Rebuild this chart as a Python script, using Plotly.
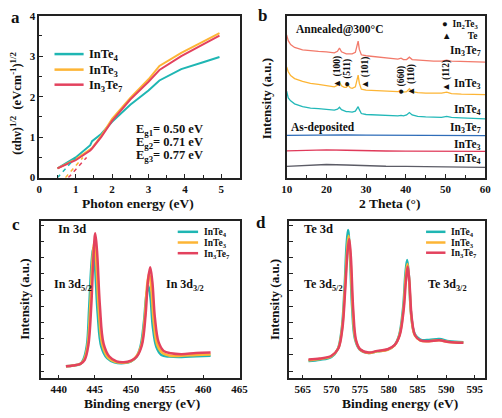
# -*- coding: utf-8 -*-
import plotly.graph_objs as go

# ---- panel a: Tauc plot ----
energy_a = [0.5, 1.0, 1.4, 1.45, 1.7, 2.0, 2.5, 3.0, 3.3, 3.9, 4.5, 4.95]
tauc_inte4 = [0.23, 0.5, 0.8, 0.9, 1.08, 1.38, 1.8, 2.15, 2.4, 2.68, 2.85, 2.98]
tauc_inte3 = [0.23, 0.45, 0.7, 0.73, 1.03, 1.45, 1.97, 2.43, 2.76, 3.08, 3.36, 3.57]
tauc_in3te7 = [0.23, 0.43, 0.67, 0.72, 1.0, 1.4, 1.93, 2.37, 2.66, 3.0, 3.29, 3.51]
fit_x_inte4 = [0.5, 1.0]
fit_x_inte3 = [0.72, 1.2]
fit_x_in3te7 = [0.8, 1.3]
fit_y = [0.0, 0.5]
eg_labels = ['E<sub>g1</sub>= 0.50 eV', 'E<sub>g2</sub>= 0.71 eV', 'E<sub>g3</sub>= 0.77 eV']

# ---- panel b: XRD ----
theta_annealed = [10, 10.4, 11, 12, 14, 16, 18, 20, 22, 22.8, 23.3, 23.8, 24.5, 25.0, 25.5, 26.0, 26.5,
                  27.3, 27.7, 28.0, 28.3, 28.8, 30, 32, 34, 36, 38, 38.8, 39.4, 40.2, 40.9, 41.6, 43,
                  45, 47, 49, 50.3, 51.5, 54, 57, 60]
xrd_ann_in3te7 = [147, 141, 137, 134, 131.5, 130.5, 130, 129.5, 128.5, 130, 133.5, 129.5, 128, 127.5, 127.5,
                  127.5, 127.5, 129, 135, 140.5, 132, 126.5, 125.5, 124.5, 123.5, 122.5, 122, 123, 121.5,
                  121.5, 124, 121.5, 121, 120.5, 120, 120, 121, 120, 119.5, 119, 119]
xrd_ann_inte3 = [114, 109, 105, 102, 99, 97, 96, 94.5, 93.5, 95, 98.5, 94.5, 93, 93, 95, 92.5, 92, 93.5, 100,
                 105.5, 97, 91, 90, 89.5, 89, 88.5, 88.5, 89.5, 88, 88.5, 91.5, 88.5, 87.5, 87, 87, 87, 88,
                 86.5, 86, 86, 85.5]
xrd_ann_inte4 = [89, 82, 79, 76, 73, 71.5, 71, 70.5, 69.5, 70.5, 72.5, 70, 68.5, 68, 68, 68, 67.5, 68.5, 71,
                 73, 70, 66, 65, 64.5, 64, 63.5, 63.5, 64, 63.5, 64.5, 67, 64.5, 63, 62.5, 62, 62, 63, 62,
                 61.5, 61, 60.5]
theta_dep = [10, 15, 20, 25, 30, 35, 40, 45, 50, 55, 60]
xrd_dep_in3te7 = [43.5, 43.8, 44, 44, 43.7, 43.6, 43.5, 43.4, 43.3, 43.2, 43.2]
xrd_dep_inte3 = [27.5, 28, 28.5, 28.2, 27.5, 27.4, 27.2, 27.2, 27.2, 27.1, 27]
xrd_dep_inte4 = [11.5, 12.5, 13.5, 13, 12, 11.7, 11.5, 11.2, 11, 10.8, 10.5]
peak_labels = ['▲ (100)', '● (511)', '▲ (101)', '● (660)', '▲ (110)', '▲ (112)']
peak_theta = [22.8, 25.5, 29.8, 38.8, 41.4, 50.4]
peak_label_y = [109, 108, 108, 100, 101, 105]

# ---- panel c: In 3d XPS ----
be_in_inte4 = [441, 442, 443, 443.4, 443.9, 444.2, 444.5, 444.75, 445.0, 445.4, 445.9, 446.7, 447.7, 449,
               450, 450.7, 451.3, 451.8, 452.1, 452.4, 452.7, 453.0, 453.5, 454.2, 455.3, 457, 459, 461]
in3d_inte4 = [0.3, 0.35, 0.45, 0.7, 1.6, 3.8, 6.4, 7.6, 6.6, 3.5, 1.5, 0.8, 0.55, 0.5, 0.6, 0.85, 1.5, 3.1,
              4.6, 5.25, 4.5, 2.8, 1.5, 1.0, 0.9, 0.88, 0.92, 0.95]
be_in_inte3 = [441, 442, 443, 443.5, 444.0, 444.35, 444.65, 444.9, 445.15, 445.55, 446.05, 446.8, 447.8, 449,
               450, 450.7, 451.4, 451.9, 452.2, 452.5, 452.8, 453.15, 453.65, 454.4, 455.4, 457, 459, 461]
in3d_inte3 = [0.3, 0.35, 0.45, 0.7, 1.6, 3.9, 6.7, 7.95, 7.0, 3.7, 1.6, 0.85, 0.58, 0.52, 0.62, 0.88, 1.55,
              3.3, 5.2, 6.05, 5.1, 3.0, 1.6, 1.1, 0.95, 0.95, 1.0, 1.02]
be_in_in3te7 = [441, 442, 443, 443.6, 444.1, 444.5, 444.8, 445.05, 445.3, 445.7, 446.2, 447, 448, 449, 450,
                450.8, 451.5, 452.0, 452.35, 452.65, 452.95, 453.3, 453.8, 454.5, 455.5, 457, 459, 461]
in3d_in3te7 = [0.3, 0.35, 0.45, 0.7, 1.6, 4.0, 7.0, 8.5, 7.4, 4.0, 1.7, 0.9, 0.6, 0.55, 0.65, 0.9, 1.6, 3.4,
               5.6, 6.4, 5.5, 3.3, 1.8, 1.25, 1.1, 1.05, 1.12, 1.15]

# ---- panel d: Te 3d XPS ----
be_te_inte4 = [566, 568, 570, 571.1, 571.8, 572.3, 572.65, 572.9, 573.2, 573.6, 574.1, 574.9, 576.5, 578,
               579.8, 581, 581.8, 582.5, 582.9, 583.2, 583.5, 583.9, 584.5, 585.5, 587, 588.8, 590.5, 593]
te3d_inte4 = [0.62, 0.7, 0.88, 1.35, 2.6, 5.2, 7.8, 8.7, 7.4, 4.0, 2.0, 1.35, 1.12, 1.22, 1.33, 1.6, 2.2,
              3.9, 6.0, 6.85, 5.9, 3.5, 2.3, 1.95, 1.92, 1.98, 1.85, 1.78]
be_te_inte3 = [566, 568, 570, 571.15, 571.85, 572.35, 572.75, 573.0, 573.3, 573.7, 574.2, 575, 576.5, 578,
               579.8, 581, 581.85, 582.55, 582.95, 583.25, 583.55, 583.95, 584.55, 585.5, 587, 588.8, 590.5, 593]
te3d_inte3 = [0.68, 0.75, 0.92, 1.38, 2.6, 5.1, 7.5, 8.35, 7.1, 3.9, 1.95, 1.33, 1.12, 1.22, 1.32, 1.58, 2.2,
              3.8, 5.8, 6.6, 5.6, 3.3, 2.2, 1.88, 1.85, 1.9, 1.8, 1.75]
be_te_in3te7 = [566, 568, 570, 571.2, 571.9, 572.4, 572.8, 573.1, 573.4, 573.8, 574.3, 575, 576.5, 578,
                579.8, 581, 581.9, 582.6, 583.0, 583.3, 583.6, 584.0, 584.6, 585.5, 587, 588.8, 590.5, 593]
te3d_in3te7 = [0.72, 0.78, 0.95, 1.4, 2.6, 5.0, 7.3, 8.15, 7.0, 3.8, 1.9, 1.35, 1.15, 1.25, 1.35, 1.6, 2.2,
               3.8, 5.6, 6.45, 5.5, 3.3, 2.2, 1.9, 1.85, 1.9, 1.8, 1.75]

names = ['InTe<sub>4</sub>', 'InTe<sub>3</sub>', 'In<sub>3</sub>Te<sub>7</sub>']
TEAL = '#1FB6B3'
ORANGE = '#FDB535'
CRIMSON = '#E3425E'
COLORS = [TEAL, ORANGE, CRIMSON]
W, H = 502, 418
FONT = 'Liberation Serif'


def px(x):
    return x / W


def py(y):
    return 1 - y / H


def bold(s):
    return '<b>%s</b>' % s


fig = go.Figure()

# panel a
for (name, ys, color) in zip(names, [tauc_inte4, tauc_inte3, tauc_in3te7], COLORS):
    fig.add_trace(go.Scatter(x=energy_a, y=ys, mode='lines', name=bold(name), showlegend=False,
                             line=dict(color=color, width=2), xaxis='x', yaxis='y'))
for (fx, color) in zip([fit_x_inte4, fit_x_inte3, fit_x_in3te7], COLORS):
    fig.add_trace(go.Scatter(x=fx, y=fit_y, mode='lines', showlegend=False,
                             line=dict(color=color, width=1.5, dash='4px,4px'), xaxis='x', yaxis='y'))

# panel b
xrd = [(theta_annealed, xrd_ann_in3te7, '#F27A6B'), (theta_annealed, xrd_ann_inte3, ORANGE),
       (theta_annealed, xrd_ann_inte4, '#22B8B8'), (theta_dep, xrd_dep_in3te7, '#2F6DB9'),
       (theta_dep, xrd_dep_inte3, '#E03A5A'), (theta_dep, xrd_dep_inte4, '#5C5C66')]
for (tx, ty, color) in xrd:
    fig.add_trace(go.Scatter(x=tx, y=ty, mode='lines', showlegend=False, line=dict(color=color, width=1.3),
                             xaxis='x2', yaxis='y2'))

# panel c / d
for (bx, by, name, color) in zip([be_in_inte4, be_in_inte3, be_in_in3te7], [in3d_inte4, in3d_inte3, in3d_in3te7],
                                 names, COLORS):
    fig.add_trace(go.Scatter(x=bx, y=by, mode='lines', name=bold(name), line_shape='spline', showlegend=False,
                             line=dict(color=color, width=2.5), xaxis='x3', yaxis='y3'))
for (bx, by, name, color) in zip([be_te_inte4, be_te_inte3, be_te_in3te7], [te3d_inte4, te3d_inte3, te3d_in3te7],
                                 names, COLORS):
    fig.add_trace(go.Scatter(x=bx, y=by, mode='lines', name=bold(name), line_shape='spline', showlegend=False,
                             line=dict(color=color, width=2.5), xaxis='x4', yaxis='y4'))


def axis(domain, rng, anchor, dtick=None, minor=None, labels=True, ticks='inside'):
    ax = dict(domain=domain, range=rng, anchor=anchor, showline=True, mirror=True, linecolor='#222',
              linewidth=1.5, showgrid=False, zeroline=False, ticks=ticks, ticklen=4, tickwidth=1.2,
              tickcolor='#222', showticklabels=labels, tickfont=dict(size=11, family=FONT, weight='bold'))
    if dtick is not None:
        ax['dtick'] = dtick
        ax['tick0'] = 0
    if minor is not None:
        ax['minor'] = dict(dtick=minor, ticks='inside', ticklen=3, tickcolor='#222')
    return ax


ya = [py(176.7), py(10)]
yc = [py(383.3), py(221)]

layout = dict(
    width=W, height=H, margin=dict(l=0, r=0, t=0, b=0), paper_bgcolor='white', plot_bgcolor='white',
    font=dict(family=FONT, size=11, color='#111'), showlegend=False,
    xaxis=axis([px(34.3), px(240.7)], [0, 5.5], 'y', 1, 0.5),
    yaxis=axis(ya, [0, 4], 'x', 1, 0.5),
    xaxis2=axis([px(289.3), px(494)], [10, 60], 'y2', 10, 5),
    yaxis2=axis(ya, [0, 166.7], 'x2', labels=False, ticks=''),
    xaxis3=axis([px(35.7), px(240.7)], [437.5, 465], 'y3', 5),
    yaxis3=axis(yc, [-0.44, 9.28], 'x3', 1, labels=False),
    xaxis4=axis([px(291.7), px(493.3)], [562.6, 596.7], 'y4', 5),
    yaxis4=axis(yc, [-0.44, 9.28], 'x4', 1, labels=False),
)
fig.update_layout(layout)


def note(text, x, y, size=12, xanchor='center', angle=0, xref='paper', yref='paper'):
    fig.add_annotation(text=bold(text), x=x, y=y, xref=xref, yref=yref, showarrow=False,
                       xanchor=xanchor, yanchor='middle', textangle=angle,
                       font=dict(family=FONT, size=size, color='#111'))


def key(x0, x1, ys, size, width):
    # hand-made legend: plotly's own legend rows are too tall for this figure
    for name, color, y in zip(names, COLORS, ys):
        fig.add_shape(type='line', xref='paper', yref='paper', x0=px(x0), x1=px(x1), y0=py(y), y1=py(y),
                      line=dict(color=color, width=width))
        note(name, px(x1 + 4), py(y + 1), size, 'left')


key(50, 80, [49.5, 65.5, 81], 12.5, 2.5)
key(177, 198, [232.5, 243.5, 254.5], 9.5, 2.5)
key(433, 453, [232.5, 243.5, 254], 9.5, 2.5)

# panel letters
note('a', px(10), py(12), 17)
note('b', px(264), py(10), 17)
note('c', px(10), py(225), 17)
note('d', px(263), py(223), 17)

# axis titles
note('Photon energy (eV)', px(136), py(203), 13.5)
note('2 Theta (°)', px(395), py(203), 13.5)
note('Binding energy (eV)', px(140), py(409), 13.5)
note('Binding energy (eV)', px(406), py(409), 13.5)
note('(αhν)<sup>1/2</sup>  (eVcm<sup>-1</sup>)<sup>1/2</sup>', px(10), py(100), 12.5, angle=-90)
note('Intensity (a.u.)', px(268), py(95), 13, angle=-90)
note('Intensity (a.u.)', px(19), py(302), 13, angle=-90)
note('Intensity (a.u.)', px(277), py(302), 13, angle=-90)

# panel a band gaps
for i, t in enumerate(eg_labels):
    note(t, px(132), py(128 + 13 * i), 12.5, 'left')

# panel b labels
note('Annealed@300°C', px(297), py(24), 11.5, 'left')
note('As-deposited', px(292), py(125), 11.5, 'left')
note('●  In<sub>2</sub>Te<sub>3</sub>', px(489), py(19), 9.5, 'right')
note('▲       Te', px(489), py(31), 9.5, 'right')
for t, y in zip([names[2], names[1], names[0], names[2], names[1], names[0]], [46, 80, 107, 126, 143, 158]):
    note(t, px(492), py(y), 11.5, 'right')
for t, x, y in zip(peak_labels, peak_theta, peak_label_y):
    note(t, x, y, 9.5, angle=-90, xref='x2', yref='y2')

# panel c / d labels
note('In 3d', px(52), py(230), 12.5, 'left')
note('In 3d<sub>5/2</sub>', px(47), py(287), 12, 'left')
note('In 3d<sub>3/2</sub>', px(163), py(287), 12, 'left')
note('Te 3d', px(305), py(230), 12.5, 'left')
note('Te 3d<sub>5/2</sub>', px(305), py(287), 12, 'left')
note('Te 3d<sub>3/2</sub>', px(433), py(287), 12, 'left')

fig.write_html('out.html', config={'displayModeBar': False},
               post_script="document.body.style.margin='0px';")
